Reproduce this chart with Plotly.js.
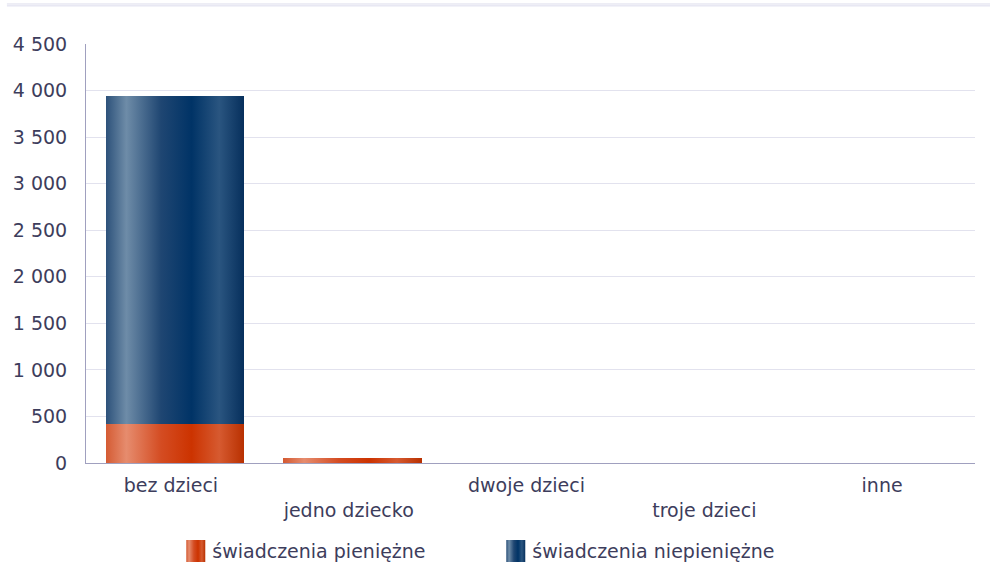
<!DOCTYPE html>
<html><head><meta charset="utf-8">
<script src="https://cdn.plot.ly/plotly-3.0.1.min.js"></script>
<style>html,body{margin:0;padding:0;background:#fff}#chart{width:990px;height:567px}</style>
</head><body><div id="chart"></div>
<script>
var categories = ['bez dzieci', 'jedno dziecko', 'dwoje dzieci', 'troje dzieci', 'inne'];
var tickLabels = ['bez dzieci', '<br>jedno dziecko', 'dwoje dzieci', '<br>troje dzieci', 'inne'];
var pieniezne = [420, 55, 0, 0, 0];
var niepieniezne = [3520, 0, 0, 0, 0];
var seriesNames = ['świadczenia pieniężne', 'świadczenia niepieniężne'];
var yTicks = [0, 500, 1000, 1500, 2000, 2500, 3000, 3500, 4000, 4500];

var fontColor = '#3d3d5c';
var fs = 19;
var traces = [
  {type: 'bar', name: seriesNames[0], x: categories, y: pieniezne, marker: {color: '#cc3300', line: {width: 0}}, hoverinfo: 'y'},
  {type: 'bar', name: seriesNames[1], x: categories, y: niepieniezne, marker: {color: '#003366', line: {width: 0}}, hoverinfo: 'y'}
];
var layout = {
  width: 990, height: 567,
  margin: {l: 86, r: 15, t: 44, b: 104},
  barmode: 'stack', bargap: 0.22,
  separators: ', ',
  paper_bgcolor: '#fff', plot_bgcolor: '#fff',
  font: {family: 'DejaVu Sans, Verdana, sans-serif', size: fs, color: fontColor},
  showlegend: true,
  legend: {orientation: 'h', x: 0.457, xanchor: 'center', yref: 'container', y: 0.028, yanchor: 'middle', font: {size: fs, color: fontColor}, traceorder: 'normal', itemwidth: 30, entrywidth: 275},
  xaxis: {type: 'category', tickmode: 'array', tickvals: categories, ticktext: tickLabels, showline: true, linecolor: '#a0a0bf', linewidth: 1, ticks: '', showgrid: false, tickfont: {size: fs, color: fontColor}, automargin: false, ticklabelstandoff: 5, ticklabelshift: -4, fixedrange: true},
  yaxis: {range: [0, 4500], tickmode: 'array', tickvals: yTicks, separatethousands: true, tickformat: ',d', showline: true, linecolor: '#a0a0bf', linewidth: 1, gridcolor: '#e2e2ee', gridwidth: 1, zeroline: false, ticks: '', ticklen: 0, tickfont: {size: fs, color: fontColor}, automargin: false, ticklabelstandoff: 14, fixedrange: true},
  shapes: [
    {type: 'line', xref: 'paper', yref: 'paper', x0: -0.089, x1: 1.02, y0: 1.0955, y1: 1.0955, line: {color: '#dcdcec', width: 1}},
    {type: 'line', xref: 'paper', yref: 'paper', x0: -0.089, x1: 1.02, y0: 1.091, y1: 1.091, line: {color: '#dcdcec', width: 1}}
  ]
};
Plotly.newPlot('chart', traces, layout, {displayModeBar: false, staticPlot: true}).then(function (gd) {
  var svg = gd.querySelector('svg.main-svg');
  var ns = 'http://www.w3.org/2000/svg';
  var defs = document.createElementNS(ns, 'defs');
  function grad(id, stops) {
    var g = document.createElementNS(ns, 'linearGradient');
    g.setAttribute('id', id); g.setAttribute('x1', '0'); g.setAttribute('x2', '1'); g.setAttribute('y1', '0'); g.setAttribute('y2', '0');
    stops.forEach(function (s) {
      var st = document.createElementNS(ns, 'stop');
      st.setAttribute('offset', s[0]); st.setAttribute('stop-color', s[1]); g.appendChild(st);
    });
    defs.appendChild(g);
  }
  grad('gOrange', [[0, '#d45a32'], [0.15, '#e68c6e'], [0.4, '#d44c22'], [0.62, '#cc3300'], [0.82, '#d65a30'], [1, '#b83000']]);
  grad('gBlue', [[0, '#2b5079'], [0.15, '#6e8ca8'], [0.4, '#1f4672'], [0.62, '#003366'], [0.82, '#2a5580'], [1, '#062f5c']]);
  svg.insertBefore(defs, svg.firstChild);
  var ids = ['gOrange', 'gBlue'];
  gd.querySelectorAll('.barlayer .trace').forEach(function (t, i) {
    t.querySelectorAll('path').forEach(function (p) { p.style.fill = 'url(#' + ids[i] + ')'; });
  });
  gd.querySelectorAll('.legend .traces').forEach(function (t, i) {
    t.querySelectorAll('.legendpoints path').forEach(function (p) {
      p.setAttribute('d', 'M13,11H-6V-11H13Z');
      p.style.fill = 'url(#' + ids[i] + ')';
    });
  });
});
</script></body></html>
